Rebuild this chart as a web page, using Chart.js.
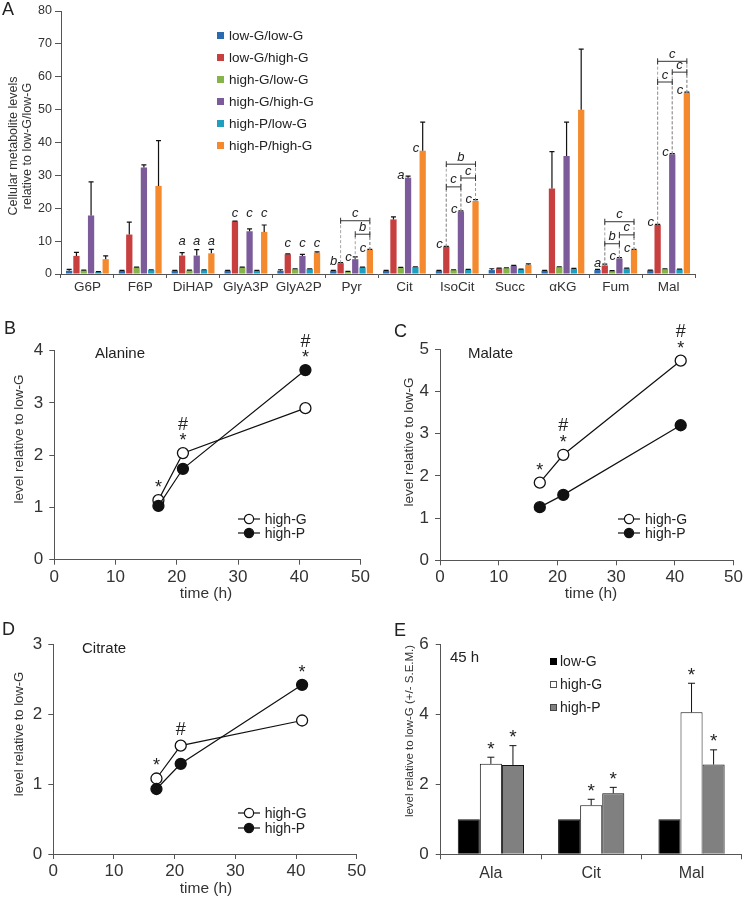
<!DOCTYPE html>
<html lang="en">
<head>
  <meta charset="UTF-8" />
  <title>Metabolite levels</title>
  <script src="https://cdn.jsdelivr.net/npm/chart.js"></script>
  <style>
    body {
      margin: 0;
      background: #fff;
      font-family: "Liberation Sans", Arial, Helvetica, sans-serif;
      color: #222;
    }
    #page {
      position: relative;
      width: 745px;
      height: 898px;
      overflow: hidden;
    }
    canvas { position: absolute; }
    .t { position: absolute; white-space: nowrap; font-weight: 400; }
    .panel { font-size: 18px; line-height: 18px; }
    .inplot { font-size: 15px; line-height: 18px; }
    .xt { font-size: 15.5px; line-height: 18px; transform: translateX(-50%); color: #333; }
    .yt { transform: translate(-50%, -50%) rotate(-90deg); text-align: center; color: #333; }
    .legA div { height: 22px; line-height: 22px; font-size: 13.5px; }
    .legA i { display: inline-block; width: 7px; height: 7px; margin-right: 5px; vertical-align: 1px; }
    .legE div { height: 22.8px; line-height: 22.8px; font-size: 14px; }
    .legE i { display: inline-block; width: 7px; height: 7px; margin-right: 3px; vertical-align: 1px; box-sizing: border-box; }
    .legL div { font-size: 14px; display: flex; align-items: center; }
    .legL svg { margin-right: 1px; }
  </style>
</head>
<body>
<div id="page">
  <canvas id="cA" width="745" height="300" style="left:0;top:0;width:745px;height:300px"></canvas>
  <canvas id="cB" width="372" height="300" style="left:0;top:300px;width:372px;height:300px"></canvas>
  <canvas id="cC" width="373" height="300" style="left:372px;top:300px;width:373px;height:300px"></canvas>
  <canvas id="cD" width="372" height="298" style="left:0;top:600px;width:372px;height:298px"></canvas>
  <canvas id="cE" width="373" height="298" style="left:372px;top:600px;width:373px;height:298px"></canvas>

  <!-- panel letters -->
  <div class="t panel" style="left:2px;top:0">A</div>
  <div class="t panel" style="left:4px;top:319px">B</div>
  <div class="t panel" style="left:394px;top:322px">C</div>
  <div class="t panel" style="left:2px;top:620px">D</div>
  <div class="t panel" style="left:394px;top:621px">E</div>

  <!-- axis titles -->
  <div class="t yt" style="left:20px;top:146px;font-size:12.5px;line-height:14px">Cellular metabolite levels<br>relative to low-G/low-G</div>
  <div class="t yt" style="left:18px;top:439px;font-size:13.5px">level relative to low-G</div>
  <div class="t yt" style="left:408px;top:442px;font-size:13.5px">level relative to low-G</div>
  <div class="t yt" style="left:18px;top:734px;font-size:13px">level relative to low-G</div>
  <div class="t yt" style="left:409px;top:731px;font-size:11.5px">level relative to low-G (+/- S.E.M.)</div>
  <div class="t xt" style="left:206px;top:584px">time (h)</div>
  <div class="t xt" style="left:591px;top:584px">time (h)</div>
  <div class="t xt" style="left:206px;top:879px">time (h)</div>

  <!-- in-plot titles -->
  <div class="t inplot" style="left:95px;top:344px">Alanine</div>
  <div class="t inplot" style="left:468px;top:344px">Malate</div>
  <div class="t inplot" style="left:82px;top:639px">Citrate</div>
  <div class="t inplot" style="left:450px;top:648px">45 h</div>

  <!-- legends -->
  <div class="t legA" id="legA" style="left:217px;top:24.7px"></div>
  <div class="t legE" id="legE" style="left:550px;top:650.3px"></div>
  <div class="t legL" id="legB" style="left:237.7px;top:512px"></div>
  <div class="t legL" id="legC" style="left:618px;top:512px"></div>
  <div class="t legL" id="legD" style="left:237.7px;top:805px"></div>
</div>

<script>
// ---- panel A data ----
const metabolites = ['G6P', 'F6P', 'DiHAP', 'GlyA3P', 'GlyA2P', 'Pyr', 'Cit', 'IsoCit', 'Succ', 'αKG', 'Fum', 'Mal'];
const groupNames = ['low-G/low-G', 'low-G/high-G', 'high-G/low-G', 'high-G/high-G', 'high-P/low-G', 'high-P/high-G'];
const groupColors = ['#2a6aae', '#c83f3f', '#86b34a', '#7b5b99', '#1e9fbf', '#f48a2d'];

const lowGlowG       = [1.0, 1.0, 1.0, 1.0, 1.0, 1.0, 1.0, 1.0, 1.2, 1.0, 1.2, 1.1];
const lowGlowGErr    = [0.4, 0.1, 0.1, 0.1, 0.3, 0.1, 0.1, 0.1, 0.4, 0.1, 0.2, 0.1];
const lowGhighG      = [5.5, 12.0, 5.6, 16.0, 6.0, 3.3, 16.6, 8.3, 1.7, 26.0, 2.6, 15.0];
const lowGhighGErr   = [1.1, 3.8, 0.9, 0.1, 0.1, 0.2, 0.8, 0.1, 0.1, 11.2, 0.4, 0.1];
const highGlowG      = [1.1, 2.0, 1.1, 2.0, 1.5, 0.7, 1.9, 1.2, 1.8, 2.1, 0.9, 1.5];
const highGlowGErr   = [0.1, 0.1, 0.1, 0.1, 0.1, 0.1, 0.1, 0.1, 0.1, 0.1, 0.1, 0.1];
const highGhighG     = [17.8, 32.4, 5.6, 13.0, 5.5, 4.5, 29.3, 19.0, 2.5, 35.9, 4.7, 36.4];
const highGhighGErr  = [10.2, 0.8, 1.8, 0.7, 0.5, 0.7, 0.5, 0.2, 0.1, 10.3, 0.3, 0.2];
const highPlowG      = [0.6, 1.2, 1.2, 1.0, 1.5, 2.0, 2.1, 1.3, 1.4, 1.6, 1.7, 1.4];
const highPlowGErr   = [0.1, 0.1, 0.1, 0.1, 0.1, 0.1, 0.1, 0.1, 0.1, 0.1, 0.1, 0.1];
const highPhighG     = [4.5, 26.8, 6.3, 12.8, 6.5, 7.3, 37.5, 22.2, 2.8, 50.0, 7.3, 55.1];
const highPhighGErr  = [1.0, 13.8, 1.2, 2.1, 0.2, 0.2, 8.7, 0.4, 0.3, 18.4, 0.2, 0.2];

const seriesA = [lowGlowG, lowGhighG, highGlowG, highGhighG, highPlowG, highPhighG];
const errA = [lowGlowGErr, lowGhighGErr, highGlowGErr, highGhighGErr, highPlowGErr, highPhighGErr];

// significance letters (series index -> letters per metabolite)
const lettersLowGhighG  = ['', '', 'a', 'c', 'c', 'b', '', 'c', '', '', 'a', 'c'];
const lettersHighGhighG = ['', '', 'a', 'c', 'c', 'c', 'a', 'c', '', '', 'c', 'c'];
const lettersHighPhighG = ['', '', 'a', 'c', 'c', 'c', 'c', 'c', '', '', 'c', 'c'];
const letterStyle = ['top', 'top', 'top', 'top', 'top', 'side', 'side', 'side', 'top', 'top', 'side', 'side'];
// brackets: metabolite, from series, to series, level, letter
const brackets = [
  ['Pyr', 1, 5, 16.2, 'c'], ['Pyr', 3, 5, 12.1, 'b'],
  ['IsoCit', 1, 5, 33.4, 'b'], ['IsoCit', 1, 3, 26.5, 'c'], ['IsoCit', 3, 5, 29.2, 'c'],
  ['Fum', 1, 5, 15.9, 'c'], ['Fum', 1, 3, 9.2, 'b'], ['Fum', 3, 5, 11.9, 'c'],
  ['Mal', 1, 5, 64.7, 'c'], ['Mal', 1, 3, 58.4, 'c'], ['Mal', 3, 5, 61.4, 'c']
];

// ---- panels B-D data ----
const times = [17, 21, 41];
const alanineHighG = [1.14, 2.04, 2.90];
const alanineHighP = [1.03, 1.74, 3.63];
const malateHighG  = [1.84, 2.50, 4.73];
const malateHighP  = [1.26, 1.55, 3.20];
const citrateHighG = [1.08, 1.55, 1.91];
const citrateHighP = [0.93, 1.29, 2.42];
const alanineMarks = ['*', '#*', '#*'];
const malateMarks  = ['*', '#*', '#*'];
const citrateMarks = ['*', '#', '*'];

// ---- panel E data ----
const eCategories = ['Ala', 'Cit', 'Mal'];
const eLowG     = [1, 1, 1];
const eHighG    = [2.58, 1.40, 4.05];
const eHighGErr = [0.19, 0.17, 0.83];
const eHighP    = [2.55, 1.74, 2.56];
const eHighPErr = [0.55, 0.17, 0.42];
const eMarksHighG = ['*', '*', '*'];
const eMarksHighP = ['*', '*', '*'];

Chart.defaults.font.family = '"Liberation Sans", Arial, Helvetica, sans-serif';
Chart.defaults.color = '#222';
Chart.defaults.animation = false;
const AX = '#555';

// draw a glyph with its visual centre at cy
function glyph(ctx, ch, x, cy, size, align, italic) {
  const k = ch === '*' ? 0.55 : ch === '#' ? 0.36 : 0.27;
  ctx.font = (italic ? 'italic ' : '') + size + 'px "Liberation Sans", Arial, sans-serif';
  ctx.textAlign = align || 'center';
  ctx.textBaseline = 'alphabetic';
  ctx.fillStyle = '#222';
  ctx.fillText(ch, x, cy + k * size);
}

const errorBars = {
  id: 'errorBars',
  afterDatasetsDraw(chart, args, opts) {
    const { ctx } = chart;
    const y = chart.scales.y;
    ctx.save();
    ctx.strokeStyle = '#111';
    ctx.lineWidth = opts.width || 1;
    chart.data.datasets.forEach((ds, k) => {
      if (!ds.errPlus) return;
      chart.getDatasetMeta(k).data.forEach((bar, i) => {
        const e = ds.errPlus[i];
        if (!e) return;
        const yt = y.getPixelForValue(ds.data[i] + e);
        ctx.beginPath();
        ctx.moveTo(bar.x, bar.y);
        ctx.lineTo(bar.x, yt);
        ctx.moveTo(bar.x - opts.cap, yt);
        ctx.lineTo(bar.x + opts.cap, yt);
        ctx.stroke();
      });
    });
    ctx.restore();
  }
};

const sigA = {
  id: 'sigA',
  afterDatasetsDraw(chart) {
    const { ctx } = chart;
    const y = chart.scales.y;
    const barX = (s, i) => chart.getDatasetMeta(s).data[i].x;
    const letterSets = [[1, lettersLowGhighG], [3, lettersHighGhighG], [5, lettersHighPhighG]];
    ctx.save();

    metabolites.forEach((m, i) => {
      const marked = letterSets.filter(([s, L]) => L[i]);
      if (!marked.length) return;
      if (letterStyle[i] === 'top') {
        const lvl = Math.max(...marked.map(([s]) => seriesA[s][i] + errA[s][i]));
        const cy = y.getPixelForValue(lvl) - 8;
        marked.forEach(([s, L]) => glyph(ctx, L[i], barX(s, i), cy, 13, 'center', true));
      } else {
        marked.forEach(([s, L]) => {
          glyph(ctx, L[i], barX(s, i) - 3.5, y.getPixelForValue(seriesA[s][i]) - 2, 13, 'right', true);
        });
      }
    });

    // dashed guides
    ctx.strokeStyle = '#999';
    ctx.lineWidth = 0.9;
    ctx.setLineDash([3, 2]);
    brackets.forEach(([m, s1, s2, lvl]) => {
      const i = metabolites.indexOf(m);
      const yb = y.getPixelForValue(lvl);
      [s1, s2].forEach(s => {
        ctx.beginPath();
        ctx.moveTo(barX(s, i), y.getPixelForValue(seriesA[s][i]));
        ctx.lineTo(barX(s, i), yb);
        ctx.stroke();
      });
    });
    ctx.setLineDash([]);

    // brackets
    ctx.strokeStyle = '#333';
    ctx.lineWidth = 1;
    brackets.forEach(([m, s1, s2, lvl, letter]) => {
      const i = metabolites.indexOf(m);
      const x1 = barX(s1, i), x2 = barX(s2, i);
      const yb = y.getPixelForValue(lvl);
      ctx.beginPath();
      ctx.moveTo(x1, yb); ctx.lineTo(x2, yb);
      ctx.moveTo(x1, yb - 3); ctx.lineTo(x1, yb + 3);
      ctx.moveTo(x2, yb - 3); ctx.lineTo(x2, yb + 3);
      ctx.stroke();
      glyph(ctx, letter, (x1 + x2) / 2, yb - 7, 13, 'center', true);
    });
    ctx.restore();
  }
};

const lineMarks = {
  id: 'lineMarks',
  afterDatasetsDraw(chart, args, opts) {
    const { ctx } = chart;
    const xs = chart.scales.x, ys = chart.scales.y;
    ctx.save();
    opts.marks.forEach((mk, i) => {
      if (!mk) return;
      const top = Math.min(...chart.data.datasets.map(ds => ys.getPixelForValue(ds.data[i].y)));
      const x = xs.getPixelForValue(times[i]);
      let cy = top - 17;
      [...mk].reverse().forEach(ch => {
        glyph(ctx, ch, x, cy, 18);
        cy -= 13;
      });
    });
    ctx.restore();
  }
};

const barMarks = {
  id: 'barMarks',
  afterDatasetsDraw(chart, args, opts) {
    const { ctx } = chart;
    const y = chart.scales.y;
    ctx.save();
    chart.data.datasets.forEach((ds, k) => {
      if (!ds.marks) return;
      chart.getDatasetMeta(k).data.forEach((bar, i) => {
        if (!ds.marks[i]) return;
        const yt = y.getPixelForValue(ds.data[i] + (ds.errPlus ? ds.errPlus[i] : 0));
        glyph(ctx, ds.marks[i], bar.x, yt - 13, 19);
      });
    });
    ctx.restore();
  }
};

function axisOpts(size, tickLen, pad) {
  return {
    grid: { display: true, drawOnChartArea: false, tickLength: tickLen, color: AX, lineWidth: 1 },
    border: { display: true, color: AX, width: 1 },
    ticks: { font: { size: size }, color: '#333', padding: pad }
  };
}

// ---- panel A ----
const ax = axisOpts(13.5, 4, 1);
const ay = axisOpts(12.5, 6, 3);
new Chart(document.getElementById('cA'), {
  type: 'bar',
  data: {
    labels: metabolites,
    datasets: groupNames.map((name, k) => ({
      label: name,
      data: seriesA[k],
      errPlus: errA[k],
      backgroundColor: groupColors[k],
      borderWidth: 0,
      barPercentage: 0.86,
      categoryPercentage: 0.83
    }))
  },
  options: {
    responsive: false,
    layout: { padding: { left: 0, top: 11, right: 50, bottom: 0 } },
    plugins: { legend: { display: false }, tooltip: { enabled: false }, errorBars: { cap: 2.5, width: 1.2 } },
    scales: {
      x: { ...ax, afterFit: s => { s.height = 26; } },
      y: { ...ay, min: 0, max: 80, ticks: { ...ay.ticks, stepSize: 10 }, afterFit: s => { s.width = 61; } }
    }
  },
  plugins: [errorBars, sigA]
});

// ---- panels B-D ----
function timeCourse(id, pad, yWidth, xHeight, yMax, g, p, marks) {
  const lx = axisOpts(17, 5, 2);
  const ly = axisOpts(17, 5, 6);
  const common = { borderColor: '#111', borderWidth: 1.2, pointRadius: 5.5, pointBorderColor: '#111', pointBorderWidth: 1.3 };
  new Chart(document.getElementById(id), {
    type: 'line',
    data: {
      datasets: [
        { label: 'high-G', data: times.map((t, i) => ({ x: t, y: g[i] })), pointBackgroundColor: '#fff', order: 1, ...common },
        { label: 'high-P', data: times.map((t, i) => ({ x: t, y: p[i] })), pointBackgroundColor: '#111', order: 0, ...common }
      ]
    },
    options: {
      responsive: false,
      layout: { padding: pad },
      plugins: { legend: { display: false }, tooltip: { enabled: false }, lineMarks: { marks: marks } },
      scales: {
        x: { ...lx, type: 'linear', min: 0, max: 50, ticks: { ...lx.ticks, stepSize: 10 }, afterFit: s => { s.height = xHeight; } },
        y: { ...ly, min: 0, max: yMax, ticks: { ...ly.ticks, stepSize: 1 }, afterFit: s => { s.width = yWidth; } }
      }
    },
    plugins: [lineMarks]
  });
}
timeCourse('cB', { left: 0, top: 50.7, right: 8.7, bottom: 0 }, 54.3, 40.3, 4, alanineHighG, alanineHighP, alanineMarks);
timeCourse('cC', { left: 0, top: 49.3, right: 7.3, bottom: 0 }, 68, 39.7, 5, malateHighG, malateHighP, malateMarks);
timeCourse('cD', { left: 0, top: 44.3, right: 15.3, bottom: 0 }, 53.3, 44, 3, citrateHighG, citrateHighP, citrateMarks);

// ---- panel E ----
const ex = axisOpts(16, 5, 5);
const ey = axisOpts(17, 5, 7);
const eBar = { borderColor: '#111', borderWidth: 1, barPercentage: 1, categoryPercentage: 0.66 };
new Chart(document.getElementById('cE'), {
  type: 'bar',
  data: {
    labels: eCategories,
    datasets: [
      { label: 'low-G', data: eLowG, backgroundColor: '#000', ...eBar },
      { label: 'high-G', data: eHighG, errPlus: eHighGErr, marks: eMarksHighG, backgroundColor: '#fff', ...eBar },
      { label: 'high-P', data: eHighP, errPlus: eHighPErr, marks: eMarksHighP, backgroundColor: '#808080', ...eBar }
    ]
  },
  options: {
    responsive: false,
    layout: { padding: { left: 0, top: 44, right: 3.3, bottom: 0 } },
    plugins: { legend: { display: false }, tooltip: { enabled: false }, errorBars: { cap: 3.5, width: 1 } },
    scales: {
      x: { ...ex, afterFit: s => { s.height = 43.7; } },
      y: { ...ey, min: 0, max: 6, ticks: { ...ey.ticks, stepSize: 2 }, afterFit: s => { s.width = 68.7; } }
    }
  },
  plugins: [errorBars, barMarks]
});

// ---- legends ----
document.getElementById('legA').innerHTML = groupNames
  .map((n, k) => `<div><i style="background:${groupColors[k]}"></i>${n}</div>`).join('');
const eLegend = [['low-G', 'background:#000'], ['high-G', 'background:#fff;border:1px solid #555'], ['high-P', 'background:#808080;border:1px solid #444']];
document.getElementById('legE').innerHTML = eLegend
  .map(([n, st]) => `<div><i style="${st}"></i>${n}</div>`).join('');
function lineLegend(id, rowH) {
  const sym = fill => `<svg width="26" height="12"><line x1="0" y1="6" x2="22" y2="6" stroke="#111" stroke-width="1.2"/><circle cx="11" cy="6" r="4.6" fill="${fill}" stroke="#111" stroke-width="1.2"/></svg>`;
  document.getElementById(id).innerHTML =
    `<div style="height:${rowH}px">${sym('#fff')}high-G</div><div style="height:${rowH}px">${sym('#111')}high-P</div>`;
}
lineLegend('legB', 14);
lineLegend('legC', 14);
lineLegend('legD', 15);
</script>
</body>
</html>
